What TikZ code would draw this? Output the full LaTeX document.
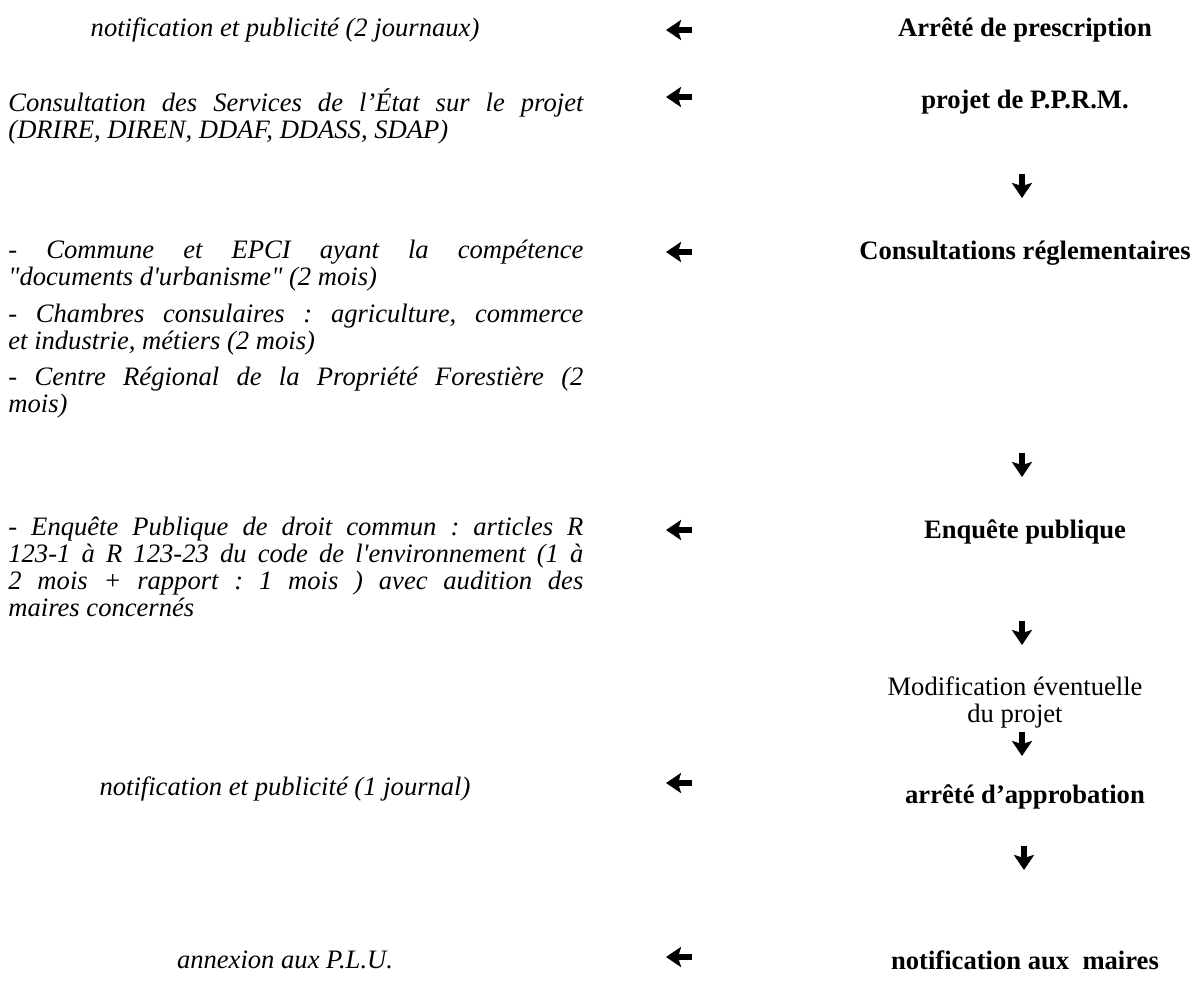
\documentclass[tikz,border=0pt]{standalone}
\usepackage{fontspec}
\setmainfont{Liberation Serif}[Ligatures=TeXOff]
\usetikzlibrary{arrows.meta}
\frenchspacing

\tikzset{
  note/.style={font=\fontsize{13.3}{13.5}\selectfont\itshape, inner sep=0pt},
  block/.style={note, text width=287.5pt, align=justify, anchor=north west},
  stage/.style={font=\fontsize{13.3}{13.5}\selectfont\bfseries, inner sep=0pt},
  remark/.style={font=\fontsize{13.3}{13.5}\selectfont, inner sep=0pt, align=center},
  fat/.style={line width=3pt, -{Stealth[length=7.5pt,width=10pt,inset=1.5pt]}}
}

\begin{document}
\begin{tikzpicture}[x=0.5pt,y=-0.5pt]
\useasboundingbox (0,0) rectangle (1196,987);

% right column
\node[stage](presc) at (1025,30) {Arrêté de prescription};
\node[stage](proj) at (1025,102) {projet de P.P.R.M.};
\node[stage](consult) at (1025,253) {Consultations réglementaires};
\node[stage](enq) at (1025,532) {Enquête publique};
\node[remark](modif) at (1015,702) {Modification éventuelle\\du projet};
\node[stage](appro) at (1025,797) {arrêté d’approbation};
\node[stage](notif) at (1025,960) {notification aux\ \ maires};

% left column
\node[note](pub1) at (285,30) {notification et publicité (2 journaux)};
\node[block](serv) at (8,88) {Consultation des Services de l’État sur le projet\linebreak (DRIRE, DIREN, DDAF, DDASS, SDAP)};
\node[block](comm) at (8,240) {- Commune et EPCI ayant la compétence\linebreak "documents d'urbanisme" (2 mois)};
\node[block](chamb) at (8,304) {- Chambres consulaires : agriculture, commerce\linebreak et industrie, métiers (2 mois)};
\node[block](crpf) at (8,367) {- Centre Régional de la Propriété Forestière (2\linebreak mois)};
\node[block](ep) at (8,517) {- Enquête Publique de droit commun : articles R\linebreak 123-1 à R 123-23 du code de l'environnement (1 à\linebreak 2 mois + rapport : 1 mois ) avec audition des\linebreak maires concernés};
\node[note](pub2) at (285,789) {notification et publicité (1 journal)};
\node[note](annex) at (285,960) {annexion aux P.L.U.};

% left arrows
\coordinate (l1s) at (692,30);  \coordinate (l1e) at (666,30);
\coordinate (l2s) at (692,97);  \coordinate (l2e) at (666,97);
\coordinate (l3s) at (692,252); \coordinate (l3e) at (666,252);
\coordinate (l4s) at (692,530); \coordinate (l4e) at (666,530);
\coordinate (l5s) at (692,783); \coordinate (l5e) at (666,783);
\coordinate (l6s) at (692,957); \coordinate (l6e) at (666,957);

\draw[fat] (l1s) -- (l1e);
\draw[fat] (l2s) -- (l2e);
\draw[fat] (l3s) -- (l3e);
\draw[fat] (l4s) -- (l4e);
\draw[fat] (l5s) -- (l5e);
\draw[fat] (l6s) -- (l6e);

% down arrows
\coordinate (d1s) at (1022,174); \coordinate (d1e) at (1022,198);
\coordinate (d2s) at (1022,453); \coordinate (d2e) at (1022,477);
\coordinate (d3s) at (1022,621); \coordinate (d3e) at (1022,645);
\coordinate (d4s) at (1022,732); \coordinate (d4e) at (1022,756);
\coordinate (d5s) at (1024,846); \coordinate (d5e) at (1024,870);

\draw[fat] (d1s) -- (d1e);
\draw[fat] (d2s) -- (d2e);
\draw[fat] (d3s) -- (d3e);
\draw[fat] (d4s) -- (d4e);
\draw[fat] (d5s) -- (d5e);

\end{tikzpicture}
\end{document}
